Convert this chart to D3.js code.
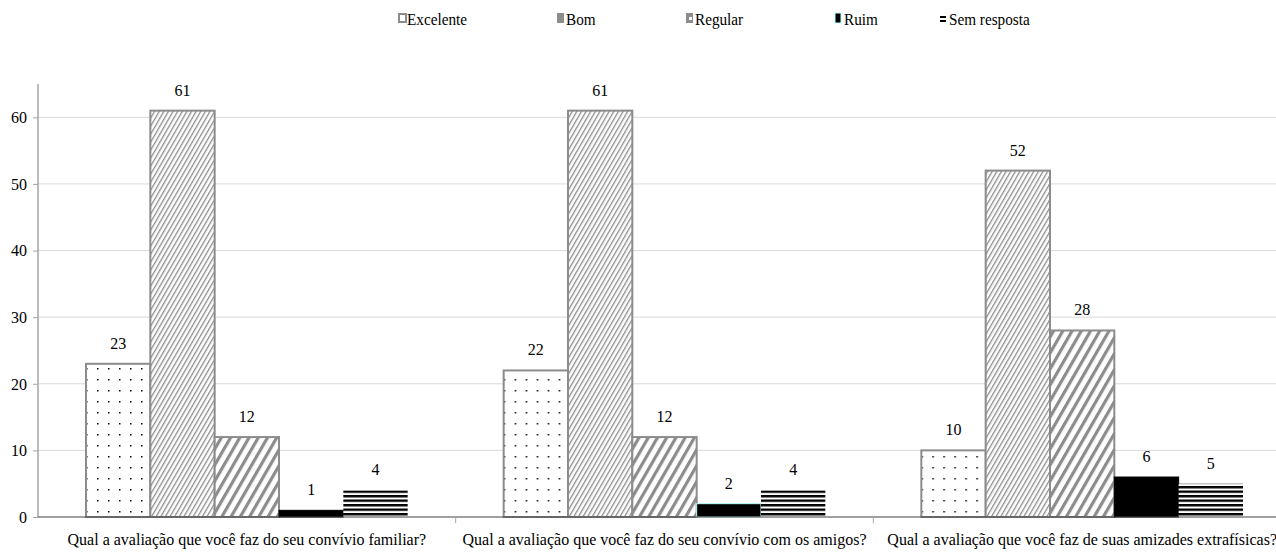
<!DOCTYPE html>
<html><head><meta charset="utf-8">
<script src="https://cdn.jsdelivr.net/npm/d3@7"></script>
<style>body{margin:0;background:#fff;overflow:hidden}svg{display:block}</style>
</head><body>
<svg id="c" width="1276" height="556"></svg>
<script>
const categories = ["Qual a avaliação que você faz do seu convívio familiar?","Qual a avaliação que você faz do seu convívio com os amigos?","Qual a avaliação que você faz de suas amizades extrafísicas?"];
const seriesNames = ["Excelente","Bom","Regular","Ruim","Sem resposta"];
const excelente = [23,22,10];
const bom = [61,61,52];
const regular = [12,12,28];
const ruim = [1,2,6];
const semResposta = [4,4,5];
const yTicks = [0,10,20,30,40,50,60];
const seriesValues = [excelente,bom,regular,ruim,semResposta];

(function(){
const FF = "Liberation Serif, Tinos, Times New Roman, DejaVu Serif, serif";
const svg = d3.select("#c").attr("font-family",FF);
const probe = svg.append("text").attr("font-size",17).text(categories[0]);
const SX = Math.min(1, 359 / probe.node().getComputedTextLength());
probe.remove();

const defs = svg.append("defs");
const pDots = defs.append("pattern").attr("id","pDots").attr("patternUnits","userSpaceOnUse").attr("width",11).attr("height",11);
pDots.append("rect").attr("width",11).attr("height",11).attr("fill","#fff");
pDots.append("rect").attr("x",4).attr("y",5).attr("width",1.5).attr("height",1.5).attr("fill","#000");
const pFine = defs.append("pattern").attr("id","pFine").attr("patternUnits","userSpaceOnUse").attr("width",4).attr("height",4).attr("patternTransform","rotate(30)");
pFine.append("rect").attr("width",4).attr("height",4).attr("fill","#fff");
pFine.append("rect").attr("width",1.3).attr("height",4).attr("fill","#8c8c8c");
const pWide = defs.append("pattern").attr("id","pWide").attr("patternUnits","userSpaceOnUse").attr("width",8).attr("height",8).attr("patternTransform","rotate(30)");
pWide.append("rect").attr("width",8).attr("height",8).attr("fill","#fff");
pWide.append("rect").attr("width",3.2).attr("height",8).attr("fill","#8c8c8c");
const pHor = defs.append("pattern").attr("id","pHor").attr("patternUnits","userSpaceOnUse").attr("width",8).attr("height",4.5);
pHor.append("rect").attr("width",8).attr("height",4.5).attr("fill","#fff");
pHor.append("rect").attr("width",8).attr("height",2.4).attr("fill","#000");

const fills = ["url(#pDots)","url(#pFine)","url(#pWide)","#000","url(#pHor)"];
const strokes = ["#8c8c8c","#8c8c8c","#8c8c8c","#000","none"];

const L = 38, R = 1291, T = 84, B = 517;
const x0 = d3.scaleBand().domain(categories).range([L,R]).paddingInner(0).paddingOuter(0);
const x1 = d3.scaleBand().domain(seriesNames).range([48, x0.bandwidth()-48]).padding(0);
const y = d3.scaleLinear().domain([0,65]).range([B,T]);

svg.append("g").selectAll("line").data(yTicks.filter(d=>d>0)).join("line")
  .attr("x1",L).attr("x2",1276).attr("y1",d=>y(d)).attr("y2",d=>y(d))
  .attr("stroke","#d9d9d9").attr("stroke-width",1);

const yAxis = svg.append("g").attr("transform",`translate(${L},0)`)
  .call(d3.axisLeft(y).tickValues(yTicks).tickSize(5).tickPadding(6));
yAxis.attr("font-family",FF).attr("font-size",17);
yAxis.select(".domain").attr("stroke","#a6a6a6").attr("stroke-width",1.5).attr("d",`M0,${T}V${B}`);
yAxis.selectAll(".tick line").attr("stroke","#a6a6a6");
yAxis.selectAll(".tick text").attr("fill","#000")
  .attr("transform",`scale(${SX},1)`).attr("x", -11/SX);

const groups = svg.append("g").selectAll("g").data(categories).join("g")
  .attr("transform",d=>`translate(${x0(d)},0)`);
groups.each(function(cat,ci){
  const g = d3.select(this);
  seriesNames.forEach((s,si)=>{
    const v = seriesValues[si][ci];
    const cx = x1(s)+x1.bandwidth()/2;
    g.append("rect").attr("x",x1(s)).attr("y",y(v)).attr("width",x1.bandwidth()).attr("height",B-y(v))
      .attr("fill",fills[si]).attr("stroke",(si===3&&ci===1)?"#bff":strokes[si]).attr("stroke-width",si===3?1:2);
    g.append("text").attr("transform",`translate(${cx},${y(v)-15}) scale(${SX},1)`)
      .attr("text-anchor","middle").attr("font-size",17).attr("fill","#000")
      .text(v);
  });
});

svg.append("line").attr("x1",L).attr("x2",1276).attr("y1",B).attr("y2",B).attr("stroke","#404040").attr("stroke-width",1);
svg.append("g").selectAll("line").data(categories.slice(1)).join("line")
  .attr("x1",d=>x0(d)).attr("x2",d=>x0(d)).attr("y1",B).attr("y2",B+6).attr("stroke","#a6a6a6");
svg.append("g").selectAll("text").data(categories).join("text")
  .attr("transform",d=>`translate(${x0(d)+x0.bandwidth()/2},545) scale(${SX},1)`)
  .attr("text-anchor","middle").attr("font-size",17).attr("fill","#000")
  .text(d=>d);

const legX = [398,557,686,835,940];
const leg = svg.append("g");
seriesNames.forEach((s,i)=>{
  const gx = legX[i], gy = 22;
  if(i===0){ leg.append("rect").attr("x",gx+1).attr("y",gy-8).attr("width",7).attr("height",8).attr("fill","#fff").attr("stroke","#8c8c8c").attr("stroke-width",2); }
  else if(i===1){ leg.append("rect").attr("x",gx).attr("y",gy-9).attr("width",7).attr("height",10).attr("fill","#8c8c8c"); }
  else if(i===2){ leg.append("rect").attr("x",gx).attr("y",gy-9).attr("width",7).attr("height",10).attr("fill","#8c8c8c");
    leg.append("rect").attr("x",gx+3).attr("y",gy-5).attr("width",3).attr("height",3).attr("fill","#fff"); }
  else if(i===3){ leg.append("rect").attr("x",gx).attr("y",gy-9).attr("width",6).attr("height",10).attr("fill","#000").attr("stroke","#bff").attr("stroke-width",1); }
  else { leg.append("rect").attr("x",gx).attr("y",gy-6).attr("width",6).attr("height",2).attr("fill","#000");
    leg.append("rect").attr("x",gx).attr("y",gy-2).attr("width",6).attr("height",2).attr("fill","#000"); }
  leg.append("text").attr("transform",`translate(${gx+(i===3?9:9)},${gy+3}) scale(${SX*0.95},1)`).attr("font-size",17).attr("fill","#000").text(s);
});
})();
</script>
</body></html>
